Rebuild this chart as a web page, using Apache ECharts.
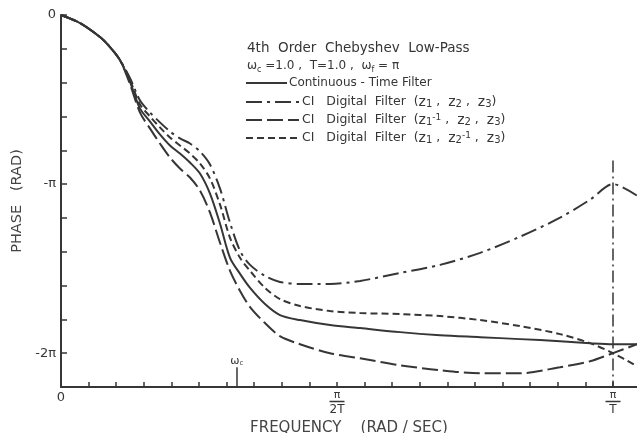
<!DOCTYPE html>
<html>
<head>
<meta charset="utf-8">
<script src="https://cdn.jsdelivr.net/npm/echarts@6/dist/echarts.min.js"></script>
<style>
  html, body { margin: 0; padding: 0; background: #ffffff; }
  #chart { width: 637px; height: 433px; }
</style>
</head>
<body>
<div id="chart"></div>
<script>
// Frequency samples (rad/sec)
const freq = [0, 0.108, 0.222, 0.279, 0.336, 0.393, 0.449, 0.506, 0.563, 0.620,
  0.677, 0.734, 0.791, 0.848, 0.905, 0.962, 1.019, 1.076, 1.161, 1.246,
  1.360, 1.531, 1.702, 1.929, 2.157, 2.385, 2.612, 2.840, 3.011, 3.1416, 3.278];

// Phase (rad) of the continuous-time 4th order Chebyshev low-pass
const phaseContinuous = [0, -0.149, -0.410, -0.597, -0.839, -1.249, -1.734, -1.976, -2.219, -2.424,
  -2.573, -2.741, -2.946, -3.319, -3.878, -4.512, -4.810, -5.071, -5.370, -5.575,
  -5.668, -5.761, -5.817, -5.892, -5.948, -5.985, -6.022, -6.060, -6.097, -6.116, -6.116];

// Phase (rad) of the CI digital filters
const phaseZ1Z2Z3 = [0, -0.149, -0.410, -0.597, -0.839, -1.175, -1.585, -1.809, -1.995, -2.163,
  -2.293, -2.387, -2.536, -2.778, -3.226, -3.860, -4.382, -4.643, -4.848, -4.960,
  -4.997, -4.997, -4.941, -4.792, -4.643, -4.419, -4.120, -3.766, -3.431, -3.1416, -3.356];

const phaseZ1invZ2Z3 = [0, -0.149, -0.410, -0.597, -0.839, -1.287, -1.809, -2.107, -2.387, -2.648,
  -2.853, -3.020, -3.263, -3.673, -4.232, -4.754, -5.127, -5.426, -5.724, -5.966,
  -6.116, -6.283, -6.377, -6.507, -6.600, -6.656, -6.656, -6.544, -6.433, -6.283, -6.116];

const phaseZ1Z2invZ3 = [0, -0.149, -0.410, -0.597, -0.839, -1.212, -1.659, -1.883, -2.088, -2.275,
  -2.424, -2.573, -2.759, -3.039, -3.524, -4.139, -4.512, -4.754, -5.071, -5.277,
  -5.407, -5.500, -5.538, -5.556, -5.594, -5.668, -5.780, -5.929, -6.097, -6.283, -6.526];

// Series names and their key text (rich-text markup for subscripts)
const seriesNames = [
  'Continuous - Time Filter',
  'CI Digital Filter (z1, z2, z3)',
  'CI Digital Filter (z1^-1, z2, z3)',
  'CI Digital Filter (z1, z2^-1, z3)'
];
const keyTexts = [
  'Continuous - Time Filter',
  'CI   Digital  Filter  ({z|z}{s|1} ,  {z|z}{s|2} ,  {z|z}{s|3})',
  'CI   Digital  Filter  ({z|z}{s|1}{p|-1} ,  {z|z}{s|2} ,  {z|z}{s|3})',
  'CI   Digital  Filter  ({z|z}{s|1} ,  {z|z}{s|2}{p|-1} ,  {z|z}{s|3})'
];
const dashPatterns = [null, [16, 5, 3, 5], [16, 5], [7, 4]];

// Tick labels: y in multiples of pi, x in multiples of pi/T (T = 1)
const yTickLabels = [[0, '0'], [-1, '-\u03C0'], [-2, '-2\u03C0']];
const xTickLabels = [[0, '{z|0}'], [0.5, '{n|\u03C0}\n{bar| }\n{d|2T}'], [1, '{n|\u03C0}\n{bar| }\n{d|T}']];

// Cutoff frequency marker and Nyquist line extent
const cutoffFreq = 1.0;
const cutoffArrowTop = -6.544;
const nyquistFreq = Math.PI;
const nyquistLineTop = -2.704;

const PI = Math.PI;
const ink = '#363636';
const font = 'DejaVu Sans';

function pairs(ys) { return freq.map((f, i) => [f, ys[i]]); }

const yMin = -11 * PI / 5;

const chart = echarts.init(document.getElementById('chart'), null, { renderer: 'canvas' });

const lineBase = { type: 'line', symbol: 'none', smooth: 0.3, clip: true, z: 3 };

const subRich = {
  z: { fontFamily: font, fontSize: 14, color: ink, lineHeight: 14 },
  s: { fontFamily: font, fontSize: 10, color: ink, verticalAlign: 'bottom', lineHeight: 12, padding: [6, 0, 0, 0] },
  p: { fontFamily: font, fontSize: 9, color: ink, verticalAlign: 'top', lineHeight: 12, padding: [0, 0, 6, 0] }
};

// Key rows: line sample + label
const keyRowsY = [83, 102, 120, 138];
const keyGraphics = [];
keyRowsY.forEach((y, i) => {
  const x2 = i === 0 ? 287 : 299;
  keyGraphics.push({
    type: 'line', silent: true,
    shape: { x1: 246, y1: y, x2: x2, y2: y },
    style: { stroke: ink, lineWidth: 2, lineDash: dashPatterns[i] || null }
  });
  keyGraphics.push({
    type: 'text', silent: true,
    x: i === 0 ? 289 : 302, y: y,
    style: {
      text: keyTexts[i], fill: ink, font: (i === 0 ? '12px' : '12.5px') + ' "DejaVu Sans"',
      verticalAlign: 'middle', align: 'left', rich: subRich
    }
  });
});

chart.setOption({
  animation: false,
  backgroundColor: '#ffffff',
  textStyle: { fontFamily: font, color: ink },
  grid: { left: 61, right: 0, top: 15, bottom: 46, containLabel: false, outerBoundsMode: 'none' },
  title: {
    left: 242, top: 35,
    itemGap: 0,
    text: '{t|4th  Order  Chebyshev  Low-Pass}\n{u|\u03C9}{s|c}{u| =1.0 ,  T=1.0 ,  \u03C9}{s|f}{u| = \u03C0}',
    textStyle: {
      fontFamily: font, fontSize: 13, fontWeight: 'normal', color: ink, lineHeight: 17,
      rich: {
        t: { fontFamily: font, fontSize: 13.5, color: ink, lineHeight: 17 },
        u: { fontFamily: font, fontSize: 12, color: ink, lineHeight: 17 },
        s: { fontFamily: font, fontSize: 8, color: ink, verticalAlign: 'bottom', lineHeight: 14 }
      }
    }
  },
  graphic: keyGraphics,
  xAxis: {
    type: 'value',
    min: 0, max: 3.278, interval: PI / 20,
    axisLine: { onZero: false, lineStyle: { color: ink, width: 2 } },
    axisTick: { inside: true, length: 5, lineStyle: { color: ink, width: 1.5 } },
    splitLine: { show: false },
    axisLabel: {
      margin: 3, color: ink, fontFamily: font, fontSize: 13,
      showMaxLabel: false,
      formatter: v => {
        const hit = xTickLabels.find(t => Math.abs(v - t[0] * PI) < 0.01);
        return hit ? hit[1] : '';
      },
      rich: {
        z: { fontFamily: font, fontSize: 13, color: ink, padding: [1, 0, 0, 0] },
        n: { fontFamily: font, fontSize: 11, color: ink, lineHeight: 10, align: 'center' },
        bar: { width: 15, height: 1.5, lineHeight: 3, fontSize: 2, backgroundColor: ink, align: 'center' },
        d: { fontFamily: font, fontSize: 12, color: ink, lineHeight: 13, align: 'center' }
      }
    },
    name: 'FREQUENCY    (RAD / SEC)',
    nameLocation: 'middle', nameGap: 30,
    nameTextStyle: { fontFamily: font, fontSize: 15, color: '#444' }
  },
  yAxis: {
    type: 'value',
    min: yMin, max: 0, interval: PI / 5,
    axisLine: { lineStyle: { color: ink, width: 2 } },
    axisTick: { inside: true, length: 6, lineStyle: { color: ink, width: 1.5 } },
    splitLine: { show: false },
    axisLabel: {
      margin: 5, color: ink, fontFamily: font, fontSize: 13,
      showMinLabel: false,
      formatter: v => {
        const hit = yTickLabels.find(t => Math.abs(v - t[0] * PI) < 0.02);
        return hit ? hit[1] : '';
      }
    },
    name: 'PHASE   (RAD)',
    nameLocation: 'middle', nameGap: 35, nameRotate: 90,
    nameTextStyle: { fontFamily: font, fontSize: 14.5, color: '#444' }
  },
  series: [
    Object.assign({}, lineBase, {
      name: seriesNames[0],
      data: pairs(phaseContinuous),
      lineStyle: { color: ink, width: 2, type: 'solid' },
      itemStyle: { color: ink },
      markLine: {
        silent: true, symbol: ['none', 'arrow'], symbolSize: [0, 7], precision: 4,
        lineStyle: { color: ink, width: 1.5, type: 'solid' },
        label: {
          show: true, position: 'start', distance: 1,
          formatter: '{w|\u03C9}{s|c}',
          rich: {
            w: { fontFamily: font, fontSize: 11, color: ink },
            s: { fontFamily: font, fontSize: 7, color: ink, verticalAlign: 'bottom', padding: [4, 0, 0, 0] }
          }
        },
        data: [[{ coord: [cutoffFreq, cutoffArrowTop] }, { coord: [cutoffFreq, yMin] }]]
      }
    }),
    Object.assign({}, lineBase, {
      name: seriesNames[1],
      data: pairs(phaseZ1Z2Z3),
      lineStyle: { color: ink, width: 2, type: dashPatterns[1] },
      itemStyle: { color: ink },
      markLine: {
        silent: true, symbol: 'none', precision: 4,
        lineStyle: { color: ink, width: 1.5, type: [12, 4, 2, 4] },
        label: { show: false },
        data: [[{ coord: [nyquistFreq, nyquistLineTop] }, { coord: [nyquistFreq, yMin] }]]
      }
    }),
    Object.assign({}, lineBase, {
      name: seriesNames[2],
      data: pairs(phaseZ1invZ2Z3),
      lineStyle: { color: ink, width: 2, type: dashPatterns[2] },
      itemStyle: { color: ink }
    }),
    Object.assign({}, lineBase, {
      name: seriesNames[3],
      data: pairs(phaseZ1Z2invZ3),
      lineStyle: { color: ink, width: 2, type: dashPatterns[3] },
      itemStyle: { color: ink }
    })
  ]
});
</script>
</body>
</html>
